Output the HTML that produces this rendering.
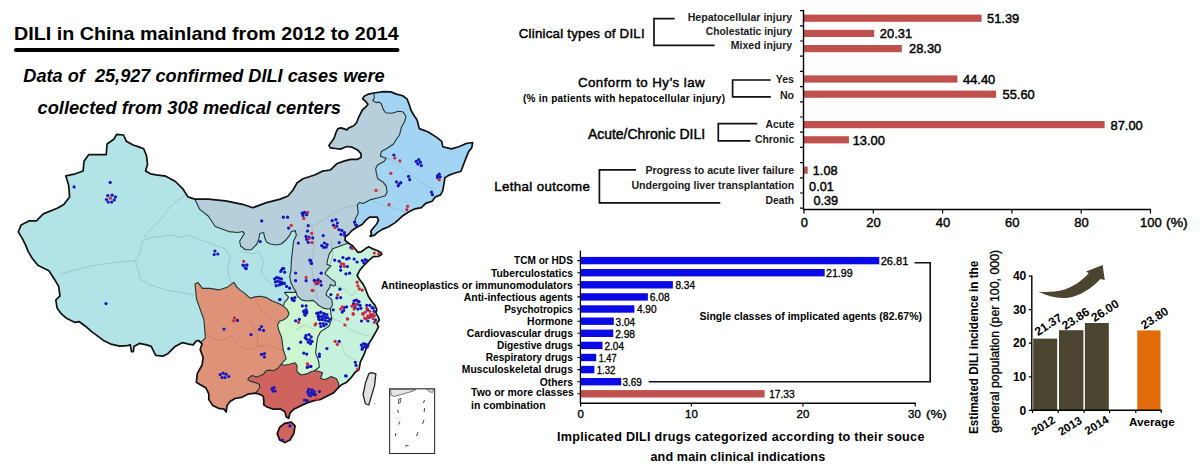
<!DOCTYPE html>
<html><head><meta charset="utf-8"><style>
html,body{margin:0;padding:0;background:#fff;}
svg{display:block;}
text{font-family:"Liberation Sans",sans-serif;}
</style></head><body>
<svg width="1202" height="468" viewBox="0 0 1202 468">
<rect width="1202" height="468" fill="#fff"/>
<g id="map">
<path d="M116.7 134.4 L123.5 135.0 L126.3 141.2 L133.1 145.0 L138.8 146.9 L143.7 148.8 L146.5 155.6 L147.5 164.2 L145.6 171.0 L150.4 173.8 L156.2 174.8 L165.8 176.2 L175.4 181.5 L183.1 189.2 L187.9 196.9 L194.7 199.1 L199.8 209.4 L208.4 216.2 L215.2 226.5 L228.9 231.6 L237.7 232.5 L242.5 231.5 L244.4 233.5 L239.6 241.2 L240.6 246.0 L245.4 249.8 L251.2 249.8 L256.9 244.0 L258.8 239.2 L259.8 233.5 L263.7 232.5 L264.6 237.3 L266.5 242.1 L270.4 244.0 L276.2 245.0 L281.0 244.0 L285.8 240.2 L289.6 235.4 L291.5 231.5 L295.4 230.6 L296.3 235.4 L293.5 241.2 L292.5 250.8 L291.5 258.5 L291.0 270.0 L289.7 276.4 L291.0 282.8 L293.6 288.0 L296.2 292.4 L284.6 292.4 L285.9 294.4 L288.5 296.9 L287.2 299.5 L284.6 302.1 L283.3 305.9 L278.2 303.3 L271.8 300.8 L266.7 297.6 L260.3 296.3 L255.1 296.9 L250.0 298.2 L244.3 292.9 L239.8 289.9 L236.8 286.9 L233.8 282.4 L227.9 286.9 L218.9 289.9 L209.9 288.4 L202.4 288.4 L198.0 282.4 L195.0 283.9 L196.5 298.9 L203.9 319.8 L205.4 337.8 L200.9 342.3 L198.5 340.5 L196.1 341.1 L193.1 344.9 L188.6 344.1 L182.6 342.6 L175.1 346.4 L167.7 353.8 L163.2 356.1 L155.7 355.3 L151.2 346.4 L146.7 344.9 L139.3 343.4 L134.0 346.4 L133.3 351.6 L131.5 351.6 L130.3 344.9 L127.3 345.6 L119.8 346.1 L110.8 344.1 L103.4 340.4 L97.4 335.9 L91.4 331.4 L85.4 326.2 L79.4 321.7 L75.0 322.4 L66.0 317.9 L61.4 313.9 L57.2 308.3 L55.8 300.0 L60.0 295.8 L58.6 286.1 L54.4 279.2 L48.9 270.8 L37.8 265.3 L32.2 258.3 L28.1 251.4 L25.3 244.4 L22.5 238.9 L18.3 231.9 L21.1 225.0 L29.4 220.8 L36.4 220.8 L43.3 213.9 L57.2 208.3 L63.8 204.6 L69.6 196.9 L68.7 185.4 L65.8 175.8 L75.4 173.8 L83.1 171.0 L84.0 161.3 L88.8 154.6 L106.2 154.6 L107.1 144.0 L113.8 139.2 L116.7 134.4Z" fill="#b2e3e6"/>
<path d="M194.7 199.1 L208.4 199.1 L225.5 200.9 L242.6 204.3 L252.8 207.7 L266.5 202.6 L280.2 199.1 L288.0 196.0 L293.0 190.0 L297.0 183.0 L303.0 178.8 L314.6 175.0 L322.3 171.2 L330.3 170.0 L332.8 167.7 L336.7 163.8 L341.8 161.9 L345.6 160.6 L350.8 159.4 L357.2 159.4 L361.0 157.4 L361.0 153.6 L357.2 149.7 L352.0 147.2 L346.9 146.5 L343.7 147.8 L340.5 149.1 L335.4 148.5 L330.3 147.8 L329.0 145.3 L330.9 142.7 L334.1 138.2 L336.0 132.4 L337.9 128.6 L341.2 127.9 L346.9 129.9 L348.8 127.9 L353.3 126.0 L356.5 122.8 L358.5 117.7 L362.3 110.0 L366.3 106.4 L367.9 104.2 L365.3 101.0 L362.6 98.9 L364.2 96.2 L368.5 94.1 L373.8 93.0 L374.4 97.8 L372.8 100.5 L376.0 102.6 L379.2 102.1 L381.3 103.7 L383.4 109.6 L385.6 112.8 L392.0 113.3 L398.4 111.2 L402.7 111.7 L405.9 116.0 L404.8 121.3 L401.6 126.7 L399.5 135.0 L395.8 140.0 L393.8 143.8 L388.1 147.7 L381.3 151.5 L380.4 156.3 L386.2 158.3 L384.2 161.2 L377.5 165.0 L375.6 168.8 L377.5 178.5 L383.3 182.3 L386.2 186.2 L387.1 191.9 L385.2 195.8 L378.5 197.7 L370.8 199.6 L363.1 203.5 L359.2 202.5 L357.3 205.4 L358.3 213.1 L355.4 218.8 L354.4 224.6 L356.7 227.4 L352.0 230.5 L349.0 233.8 L345.1 237.0 L345.1 240.3 L349.0 243.5 L346.4 243.7 L339.6 246.2 L332.7 248.8 L329.3 253.9 L327.6 259.9 L326.8 264.2 L331.0 265.9 L327.0 270.0 L324.9 273.7 L328.1 276.4 L331.3 279.1 L335.1 281.8 L335.6 285.0 L333.5 286.0 L330.3 284.4 L329.7 287.6 L327.0 291.4 L326.0 295.1 L329.2 297.2 L331.9 299.9 L332.4 305.3 L330.3 308.5 L327.0 309.0 L322.8 307.9 L318.5 305.3 L316.4 303.1 L313.2 300.4 L306.8 301.0 L301.4 299.9 L297.1 295.6 L296.2 292.4 L293.6 288.0 L291.0 282.8 L289.7 276.4 L291.0 270.0 L291.5 258.5 L292.5 250.8 L293.5 241.2 L296.3 235.4 L295.4 230.6 L291.5 231.5 L289.6 235.4 L285.8 240.2 L281.0 244.0 L276.2 245.0 L270.4 244.0 L266.5 242.1 L264.6 237.3 L263.7 232.5 L259.8 233.5 L258.8 239.2 L256.9 244.0 L251.2 249.8 L245.4 249.8 L240.6 246.0 L239.6 241.2 L244.4 233.5 L242.5 231.5 L237.7 232.5 L228.9 231.6 L215.2 226.5 L208.4 216.2 L199.8 209.4 L194.7 199.1Z" fill="#b6cfdb"/>
<path d="M373.8 93.0 L383.4 91.6 L390.9 91.9 L396.3 94.1 L402.7 95.7 L407.0 98.9 L409.1 104.2 L411.2 110.7 L414.4 116.0 L417.1 120.0 L419.3 128.6 L427.8 131.8 L436.4 137.1 L441.7 141.4 L442.8 146.7 L451.3 148.9 L458.8 146.7 L466.3 143.5 L472.7 142.5 L471.7 147.8 L468.4 152.1 L466.3 157.4 L464.2 162.8 L461.0 171.3 L453.5 173.5 L448.1 175.6 L444.9 177.8 L443.9 184.2 L442.8 190.6 L440.6 194.9 L435.3 197.0 L432.1 201.3 L425.7 203.4 L421.4 207.7 L415.0 208.8 L408.6 212.0 L402.1 216.3 L395.2 222.6 L388.7 226.8 L382.3 229.4 L377.2 232.6 L374.6 235.1 L370.1 236.4 L371.4 233.8 L370.8 231.3 L372.7 228.7 L376.5 224.2 L378.5 220.4 L377.2 217.2 L369.5 217.2 L365.6 220.4 L362.4 224.2 L356.7 227.4 L354.4 224.6 L355.4 218.8 L358.3 213.1 L357.3 205.4 L359.2 202.5 L363.1 203.5 L370.8 199.6 L378.5 197.7 L385.2 195.8 L387.1 191.9 L386.2 186.2 L383.3 182.3 L377.5 178.5 L375.6 168.8 L377.5 165.0 L384.2 161.2 L386.2 158.3 L380.4 156.3 L381.3 151.5 L388.1 147.7 L393.8 143.8 L395.8 140.0 L399.5 135.0 L401.6 126.7 L404.8 121.3 L405.9 116.0 L402.7 111.7 L398.4 111.2 L392.0 113.3 L385.6 112.8 L383.4 109.6 L381.3 103.7 L379.2 102.1 L376.0 102.6 L372.8 100.5 L374.4 97.8 L373.8 93.0Z" fill="#a3d4f4"/>
<path d="M296.2 292.4 L297.1 295.6 L301.4 299.9 L306.8 301.0 L313.2 300.4 L316.4 303.1 L318.5 305.3 L322.8 307.9 L327.0 309.0 L330.3 308.5 L332.4 305.3 L331.9 299.9 L329.2 297.2 L326.0 295.1 L327.0 291.4 L329.7 287.6 L330.3 284.4 L333.5 286.0 L335.6 285.0 L335.1 281.8 L331.3 279.1 L328.1 276.4 L324.9 273.7 L327.0 270.0 L331.0 265.9 L326.8 264.2 L327.6 259.9 L329.3 253.9 L332.7 248.8 L339.6 246.2 L346.4 243.7 L349.0 243.5 L352.8 246.0 L355.4 249.2 L358.0 252.4 L361.2 251.8 L365.6 248.6 L368.8 246.7 L372.0 248.6 L377.2 250.5 L381.0 252.4 L381.7 254.4 L378.5 256.3 L373.3 256.7 L369.1 260.1 L363.9 265.3 L359.7 270.4 L357.1 275.5 L359.7 279.8 L363.1 284.1 L365.6 289.2 L368.2 296.0 L371.6 301.2 L375.0 305.4 L376.8 309.7 L375.9 313.1 L378.5 317.4 L379.3 320.0 L376.8 323.4 L378.5 326.8 L375.9 331.9 L371.8 339.0 L366.7 346.7 L364.1 354.4 L360.3 362.1 L359.0 369.7 L355.1 372.3 L351.3 377.4 L346.2 382.6 L341.0 385.1 L338.5 387.7 L338.7 383.5 L336.5 378.7 L331.2 376.6 L324.8 379.8 L320.5 378.2 L322.6 372.8 L318.4 371.2 L314.4 370.8 L312.0 371.2 L306.6 373.9 L301.3 375.0 L297.0 371.8 L297.0 365.3 L294.9 362.7 L289.5 364.3 L284.2 365.3 L281.0 364.4 L286.2 358.7 L283.2 349.7 L281.7 337.8 L278.7 330.0 L277.6 325.1 L279.5 321.3 L283.3 320.0 L287.2 317.4 L289.1 313.6 L287.2 309.7 L283.3 305.9 L284.6 302.1 L287.2 299.5 L288.5 296.9 L285.9 294.4 L284.6 292.4 L296.2 292.4Z" fill="#c6f1dc"/>
<path d="M296.2 292.4 L297.1 295.6 L301.4 299.9 L306.8 301.0 L313.2 300.4 L316.4 303.1 L318.5 305.3 L322.8 307.9 L327.0 309.0 L330.3 308.5 L331.0 314.6 L331.9 318.5 L329.0 326.2 L320.4 331.9 L317.5 337.7 L316.5 345.4 L315.6 353.1 L318.5 360.8 L319.4 367.0 L314.4 370.8 L312.0 371.2 L306.6 373.9 L301.3 375.0 L297.0 371.8 L297.0 365.3 L294.9 362.7 L289.5 364.3 L284.2 365.3 L281.0 364.4 L286.2 358.7 L283.2 349.7 L281.7 337.8 L278.7 330.0 L277.6 325.1 L279.5 321.3 L283.3 320.0 L287.2 317.4 L289.1 313.6 L287.2 309.7 L283.3 305.9 L284.6 302.1 L287.2 299.5 L288.5 296.9 L285.9 294.4 L284.6 292.4 L296.2 292.4Z" fill="#cbf6d0"/>
<path d="M198.5 340.5 L200.9 342.3 L205.4 337.8 L203.9 319.8 L196.5 298.9 L195.0 283.9 L198.0 282.4 L202.4 288.4 L209.9 288.4 L218.9 289.9 L227.9 286.9 L233.8 282.4 L236.8 286.9 L239.8 289.9 L244.3 292.9 L250.0 298.2 L255.1 296.9 L260.3 296.3 L266.7 297.6 L271.8 300.8 L278.2 303.3 L283.3 305.9 L287.2 309.7 L289.1 313.6 L287.2 317.4 L283.3 320.0 L279.5 321.3 L277.6 325.1 L278.7 330.0 L281.7 337.8 L283.2 349.7 L286.2 358.7 L281.0 364.4 L277.7 368.5 L273.5 370.7 L269.2 370.1 L266.0 370.7 L263.8 373.9 L259.6 376.0 L256.4 377.1 L252.1 375.5 L248.9 377.6 L247.8 379.8 L251.0 381.4 L256.4 383.0 L259.6 384.6 L259.6 387.8 L257.4 391.0 L255.3 393.1 L247.8 394.2 L241.4 397.4 L235.0 398.5 L230.0 401.5 L227.1 405.4 L226.2 412.1 L224.2 409.2 L218.5 408.3 L212.7 405.4 L208.8 399.6 L208.8 393.8 L206.0 388.1 L201.2 385.2 L196.3 382.3 L197.3 373.7 L202.1 365.0 L203.1 357.3 L200.2 349.6 L202.1 343.8 L198.5 340.5Z" fill="#de9278"/>
<path d="M255.3 393.1 L257.4 391.0 L259.6 387.8 L259.6 384.6 L256.4 383.0 L251.0 381.4 L247.8 379.8 L248.9 377.6 L252.1 375.5 L256.4 377.1 L259.6 376.0 L263.8 373.9 L266.0 370.7 L269.2 370.1 L273.5 370.7 L277.7 368.5 L281.0 364.4 L284.2 365.3 L289.5 364.3 L294.9 362.7 L297.0 365.3 L297.0 371.8 L301.3 375.0 L306.6 373.9 L312.0 371.2 L314.4 370.8 L318.4 371.2 L322.6 372.8 L320.5 378.2 L324.8 379.8 L331.2 376.6 L336.5 378.7 L338.7 383.5 L338.5 387.7 L337.4 388.7 L333.3 393.1 L326.9 396.3 L320.5 399.5 L314.1 400.6 L307.7 402.7 L301.5 405.4 L293.8 409.2 L290.0 413.1 L288.7 418.2 L286.2 416.9 L284.9 411.8 L281.0 409.2 L273.3 409.2 L267.1 407.0 L263.8 404.9 L263.8 400.6 L263.3 396.3 L259.6 394.2 L255.3 393.1Z" fill="#cf645e"/>
<path d="M284.9 423.3 L291.3 422.1 L295.1 425.9 L293.8 433.6 L290.0 440.0 L284.9 442.6 L279.7 440.0 L277.2 433.6 L279.7 427.2Z" fill="#cf645e"/>
<path d="M60.5 274.0 L90.0 266.0 L113.4 262.8 L120.0 261.8 L135.4 260.5 L140.5 252.8 L141.8 241.3 L150.8 237.4 L163.6 236.2 L171.3 234.9 L181.5 237.4 L186.7 234.9 L194.4 237.4 L204.6 241.3 L214.9 245.1 L225.1 249.0 L230.3 256.7 L227.7 266.9 L229.0 277.2 L232.8 284.9 M135.4 260.5 L137.9 269.5 L140.5 279.7 L150.8 284.9 L166.2 290.0 L181.5 292.6 L194.4 295.1 M143.0 238.7 L150.0 230.0 L158.5 222.0 L163.6 215.6 L171.3 205.4 L181.5 197.7 L188.0 194.0 M240.5 251.5 L253.3 254.1 L258.5 251.5 L263.6 261.8 L261.0 272.1 L268.7 282.3 L279.0 287.4" fill="none" stroke="#96c6cb" stroke-width="0.9"/>
<path d="M206.9 334.8 L218.9 340.8 L230.9 336.3 L239.8 346.7 L248.8 349.7 L257.8 346.7 L268.0 345.0 L282.0 350.0 M248.8 319.8 L257.8 334.8 L257.8 346.7 M255.0 300.0 L262.0 312.0 L270.0 318.0 L279.0 322.0" fill="none" stroke="#cd8066" stroke-width="0.9"/>
<path d="M296.0 236.0 L305.0 228.0 L316.0 224.0 L330.0 216.0 L343.0 208.0 L356.0 205.0 M312.0 226.0 L314.0 245.0 L312.0 265.0 L313.0 280.0 L318.0 300.0 M331.0 240.0 L333.0 255.0 L330.0 265.0" fill="none" stroke="#a4b8c4" stroke-width="0.9"/>
<path d="M380.0 157.0 L392.0 160.0 L405.0 170.0 L415.0 178.0 L425.0 185.0 L435.0 190.0 M372.0 201.0 L385.0 206.0 L395.0 208.0 L405.0 212.0" fill="none" stroke="#92bedb" stroke-width="0.9"/>
<path d="M335.0 285.0 L345.0 290.0 L352.0 296.0 L357.0 290.0 M331.0 318.0 L342.0 322.0 L350.0 330.0 L360.0 334.0 L370.0 336.0 M340.0 340.0 L345.0 355.0 L355.0 360.0 M296.0 330.0 L305.0 325.0 L316.0 330.0" fill="none" stroke="#a9d7bd" stroke-width="0.9"/>
<path d="M194.7 199.1 L199.8 209.4 L208.4 216.2 L215.2 226.5 L228.9 231.6 L237.7 232.5 L242.5 231.5 L244.4 233.5 L239.6 241.2 L240.6 246.0 L245.4 249.8 L251.2 249.8 L256.9 244.0 L258.8 239.2 L259.8 233.5 L263.7 232.5 L264.6 237.3 L266.5 242.1 L270.4 244.0 L276.2 245.0 L281.0 244.0 L285.8 240.2 L289.6 235.4 L291.5 231.5 L295.4 230.6 L296.3 235.4 L293.5 241.2 L292.5 250.8 L291.5 258.5 L291.0 270.0 L289.7 276.4 L291.0 282.8 L293.6 288.0 L296.2 292.4 M296.2 292.4 L284.6 292.4 L285.9 294.4 L288.5 296.9 L287.2 299.5 L284.6 302.1 L283.3 305.9 M283.3 305.9 L278.2 303.3 L271.8 300.8 L266.7 297.6 L260.3 296.3 L255.1 296.9 L250.0 298.2 L244.3 292.9 L239.8 289.9 L236.8 286.9 L233.8 282.4 L227.9 286.9 L218.9 289.9 L209.9 288.4 L202.4 288.4 L198.0 282.4 L195.0 283.9 L196.5 298.9 L203.9 319.8 L205.4 337.8 L200.9 342.3 L198.5 340.5 M296.2 292.4 L297.1 295.6 L301.4 299.9 L306.8 301.0 L313.2 300.4 L316.4 303.1 L318.5 305.3 L322.8 307.9 L327.0 309.0 L330.3 308.5 L332.4 305.3 L331.9 299.9 L329.2 297.2 L326.0 295.1 L327.0 291.4 L329.7 287.6 L330.3 284.4 L333.5 286.0 L335.6 285.0 L335.1 281.8 L331.3 279.1 L328.1 276.4 L324.9 273.7 L327.0 270.0 L331.0 265.9 L326.8 264.2 L327.6 259.9 L329.3 253.9 L332.7 248.8 L339.6 246.2 L346.4 243.7 L349.0 243.5 M373.8 93.0 L374.4 97.8 L372.8 100.5 L376.0 102.6 L379.2 102.1 L381.3 103.7 L383.4 109.6 L385.6 112.8 L392.0 113.3 L398.4 111.2 L402.7 111.7 L405.9 116.0 L404.8 121.3 L401.6 126.7 L399.5 135.0 L395.8 140.0 L393.8 143.8 L388.1 147.7 L381.3 151.5 L380.4 156.3 L386.2 158.3 L384.2 161.2 L377.5 165.0 L375.6 168.8 L377.5 178.5 L383.3 182.3 L386.2 186.2 L387.1 191.9 L385.2 195.8 L378.5 197.7 L370.8 199.6 L363.1 203.5 L359.2 202.5 L357.3 205.4 L358.3 213.1 L355.4 218.8 L354.4 224.6 L356.7 227.4 M283.3 305.9 L287.2 309.7 L289.1 313.6 L287.2 317.4 L283.3 320.0 L279.5 321.3 L277.6 325.1 L278.7 330.0 L281.7 337.8 L283.2 349.7 L286.2 358.7 L281.0 364.4 M281.0 364.4 L277.7 368.5 L273.5 370.7 L269.2 370.1 L266.0 370.7 L263.8 373.9 L259.6 376.0 L256.4 377.1 L252.1 375.5 L248.9 377.6 L247.8 379.8 L251.0 381.4 L256.4 383.0 L259.6 384.6 L259.6 387.8 L257.4 391.0 L255.3 393.1 M281.0 364.4 L284.2 365.3 L289.5 364.3 L294.9 362.7 L297.0 365.3 L297.0 371.8 L301.3 375.0 L306.6 373.9 L312.0 371.2 L314.4 370.8 L318.4 371.2 L322.6 372.8 L320.5 378.2 L324.8 379.8 L331.2 376.6 L336.5 378.7 L338.7 383.5 L338.5 387.7 M330.3 308.5 L331.0 314.6 L331.9 318.5 L329.0 326.2 L320.4 331.9 L317.5 337.7 L316.5 345.4 L315.6 353.1 L318.5 360.8 L319.4 367.0 L314.4 370.8" fill="none" stroke="#1f3535" stroke-width="1.1" stroke-linejoin="round"/>
<path d="M116.7 134.4 L123.5 135.0 L126.3 141.2 L133.1 145.0 L138.8 146.9 L143.7 148.8 L146.5 155.6 L147.5 164.2 L145.6 171.0 L150.4 173.8 L156.2 174.8 L165.8 176.2 L175.4 181.5 L183.1 189.2 L187.9 196.9 L194.7 199.1 L208.4 199.1 L225.5 200.9 L242.6 204.3 L252.8 207.7 L266.5 202.6 L280.2 199.1 L288.0 196.0 L293.0 190.0 L297.0 183.0 L303.0 178.8 L314.6 175.0 L322.3 171.2 L330.3 170.0 L332.8 167.7 L336.7 163.8 L341.8 161.9 L345.6 160.6 L350.8 159.4 L357.2 159.4 L361.0 157.4 L361.0 153.6 L357.2 149.7 L352.0 147.2 L346.9 146.5 L343.7 147.8 L340.5 149.1 L335.4 148.5 L330.3 147.8 L329.0 145.3 L330.9 142.7 L334.1 138.2 L336.0 132.4 L337.9 128.6 L341.2 127.9 L346.9 129.9 L348.8 127.9 L353.3 126.0 L356.5 122.8 L358.5 117.7 L362.3 110.0 L366.3 106.4 L367.9 104.2 L365.3 101.0 L362.6 98.9 L364.2 96.2 L368.5 94.1 L373.8 93.0 L383.4 91.6 L390.9 91.9 L396.3 94.1 L402.7 95.7 L407.0 98.9 L409.1 104.2 L411.2 110.7 L414.4 116.0 L417.1 120.0 L419.3 128.6 L427.8 131.8 L436.4 137.1 L441.7 141.4 L442.8 146.7 L451.3 148.9 L458.8 146.7 L466.3 143.5 L472.7 142.5 L471.7 147.8 L468.4 152.1 L466.3 157.4 L464.2 162.8 L461.0 171.3 L453.5 173.5 L448.1 175.6 L444.9 177.8 L443.9 184.2 L442.8 190.6 L440.6 194.9 L435.3 197.0 L432.1 201.3 L425.7 203.4 L421.4 207.7 L415.0 208.8 L408.6 212.0 L402.1 216.3 L395.2 222.6 L388.7 226.8 L382.3 229.4 L377.2 232.6 L374.6 235.1 L370.1 236.4 L371.4 233.8 L370.8 231.3 L372.7 228.7 L376.5 224.2 L378.5 220.4 L377.2 217.2 L369.5 217.2 L365.6 220.4 L362.4 224.2 L356.7 227.4 L352.0 230.5 L349.0 233.8 L345.1 237.0 L345.1 240.3 L349.0 243.5 L352.8 246.0 L355.4 249.2 L358.0 252.4 L361.2 251.8 L365.6 248.6 L368.8 246.7 L372.0 248.6 L377.2 250.5 L381.0 252.4 L381.7 254.4 L378.5 256.3 L373.3 256.7 L369.1 260.1 L363.9 265.3 L359.7 270.4 L357.1 275.5 L359.7 279.8 L363.1 284.1 L365.6 289.2 L368.2 296.0 L371.6 301.2 L375.0 305.4 L376.8 309.7 L375.9 313.1 L378.5 317.4 L379.3 320.0 L376.8 323.4 L378.5 326.8 L375.9 331.9 L371.8 339.0 L366.7 346.7 L364.1 354.4 L360.3 362.1 L359.0 369.7 L355.1 372.3 L351.3 377.4 L346.2 382.6 L341.0 385.1 L338.5 387.7 L337.4 388.7 L333.3 393.1 L326.9 396.3 L320.5 399.5 L314.1 400.6 L307.7 402.7 L301.5 405.4 L293.8 409.2 L290.0 413.1 L288.7 418.2 L286.2 416.9 L284.9 411.8 L281.0 409.2 L273.3 409.2 L267.1 407.0 L263.8 404.9 L263.8 400.6 L263.3 396.3 L259.6 394.2 L255.3 393.1 L247.8 394.2 L241.4 397.4 L235.0 398.5 L230.0 401.5 L227.1 405.4 L226.2 412.1 L224.2 409.2 L218.5 408.3 L212.7 405.4 L208.8 399.6 L208.8 393.8 L206.0 388.1 L201.2 385.2 L196.3 382.3 L197.3 373.7 L202.1 365.0 L203.1 357.3 L200.2 349.6 L202.1 343.8 L198.5 340.5 L196.1 341.1 L193.1 344.9 L188.6 344.1 L182.6 342.6 L175.1 346.4 L167.7 353.8 L163.2 356.1 L155.7 355.3 L151.2 346.4 L146.7 344.9 L139.3 343.4 L134.0 346.4 L133.3 351.6 L131.5 351.6 L130.3 344.9 L127.3 345.6 L119.8 346.1 L110.8 344.1 L103.4 340.4 L97.4 335.9 L91.4 331.4 L85.4 326.2 L79.4 321.7 L75.0 322.4 L66.0 317.9 L61.4 313.9 L57.2 308.3 L55.8 300.0 L60.0 295.8 L58.6 286.1 L54.4 279.2 L48.9 270.8 L37.8 265.3 L32.2 258.3 L28.1 251.4 L25.3 244.4 L22.5 238.9 L18.3 231.9 L21.1 225.0 L29.4 220.8 L36.4 220.8 L43.3 213.9 L57.2 208.3 L63.8 204.6 L69.6 196.9 L68.7 185.4 L65.8 175.8 L75.4 173.8 L83.1 171.0 L84.0 161.3 L88.8 154.6 L106.2 154.6 L107.1 144.0 L113.8 139.2 L116.7 134.4Z M284.9 423.3 L291.3 422.1 L295.1 425.9 L293.8 433.6 L290.0 440.0 L284.9 442.6 L279.7 440.0 L277.2 433.6 L279.7 427.2Z" fill="none" stroke="#111" stroke-width="1.7" stroke-linejoin="round"/>
<path d="M371.2 372.7 L375.8 373.8 L374.6 385.4 L371.2 396.9 L368.8 405.0 L365.4 403.8 L363.1 394.6 L365.4 383.1 L368.8 373.8Z" fill="#e2e2e2" stroke="#222" stroke-width="1.3"/>
<circle cx="374.8" cy="403.8" r="0.7" fill="#888"/>
<rect x="389.6" y="388.8" width="45" height="64.7" fill="none" stroke="#333" stroke-width="1.1"/>
<path d="M390.5 389.5H416C412 392 402 394 394 396.5L391 395Z" fill="#e4e4e4" stroke="#555" stroke-width="0.8"/>
<path d="M426.5 389.2H433.5L432.5 392.5L429 391.5Z" fill="#e4e4e4" stroke="#555" stroke-width="0.8"/>
<path d="M398.5 399.5L401 398L400.5 402.5L398.5 403.5Z" fill="#ddd" stroke="#444" stroke-width="0.8"/>
<path d="M397.5 410l1.2 3 M400 421.5l-1.5 3 M395.8 433l-0.4 3 M405 446l3.5 -0.5 M424.5 400l-1 3 M424.5 408l-0.3 4 M424 420l-1.5 4 M418 432l-1.5 4" fill="none" stroke="#444" stroke-width="1"/>
<g fill="#1414c0"><circle cx="393.9" cy="155" r="1.6"/><circle cx="416.2" cy="161.4" r="1.6"/><circle cx="418.7" cy="159.7" r="1.6"/><circle cx="420.4" cy="162.2" r="1.6"/><circle cx="417.9" cy="163.9" r="1.6"/><circle cx="421.3" cy="165.6" r="1.6"/><circle cx="408.5" cy="176.4" r="1.6"/><circle cx="409.7" cy="179.7" r="1.6"/><circle cx="396.5" cy="181.9" r="1.6"/><circle cx="399.1" cy="184.1" r="1.6"/><circle cx="400.8" cy="182.7" r="1.6"/><circle cx="398.2" cy="185.8" r="1.6"/><circle cx="437.5" cy="175.9" r="1.6"/><circle cx="439.2" cy="174.2" r="1.6"/><circle cx="440.1" cy="176.8" r="1.6"/><circle cx="437.5" cy="177.6" r="1.6"/><circle cx="431.5" cy="192.1" r="1.6"/><circle cx="432.4" cy="194.7" r="1.6"/><circle cx="302.2" cy="213.2" r="1.6"/><circle cx="304.5" cy="212.4" r="1.6"/><circle cx="306.7" cy="214.7" r="1.6"/><circle cx="303" cy="215.4" r="1.6"/><circle cx="308.2" cy="225.6" r="1.6"/><circle cx="307.5" cy="231.1" r="1.6"/><circle cx="306" cy="236.4" r="1.6"/><circle cx="309" cy="237.1" r="1.6"/><circle cx="312.7" cy="237.9" r="1.6"/><circle cx="306.7" cy="239.4" r="1.6"/><circle cx="308.2" cy="242.3" r="1.6"/><circle cx="323.2" cy="235.6" r="1.6"/><circle cx="321.7" cy="245.6" r="1.6"/><circle cx="324.4" cy="243" r="1.6"/><circle cx="327.1" cy="244.6" r="1.6"/><circle cx="323.7" cy="247.3" r="1.6"/><circle cx="326.2" cy="247.1" r="1.6"/><circle cx="332.2" cy="220.7" r="1.6"/><circle cx="335.9" cy="219.6" r="1.6"/><circle cx="337.4" cy="223" r="1.6"/><circle cx="333.5" cy="225.2" r="1.6"/><circle cx="336.7" cy="226.2" r="1.6"/><circle cx="339" cy="229.7" r="1.6"/><circle cx="341.9" cy="230.4" r="1.6"/><circle cx="344.4" cy="232.6" r="1.6"/><circle cx="341" cy="234.4" r="1.6"/><circle cx="344.6" cy="235.2" r="1.6"/><circle cx="354.6" cy="222.2" r="1.6"/><circle cx="356.5" cy="225.1" r="1.6"/><circle cx="339.2" cy="242.6" r="1.6"/><circle cx="350.9" cy="247.6" r="1.6"/><circle cx="261.7" cy="220.9" r="1.6"/><circle cx="283.4" cy="217.2" r="1.6"/><circle cx="287.6" cy="217.2" r="1.6"/><circle cx="288.6" cy="228.1" r="1.6"/><circle cx="260.2" cy="241.6" r="1.6"/><circle cx="298.3" cy="243.1" r="1.6"/><circle cx="243" cy="265" r="1.6"/><circle cx="246.7" cy="265" r="1.6"/><circle cx="245.2" cy="268" r="1.6"/><circle cx="282.6" cy="268.5" r="1.6"/><circle cx="281.4" cy="270" r="1.6"/><circle cx="283.7" cy="268.5" r="1.6"/><circle cx="284.7" cy="272.2" r="1.6"/><circle cx="280.7" cy="271.5" r="1.6"/><circle cx="274.7" cy="278.9" r="1.6"/><circle cx="276.9" cy="277.4" r="1.6"/><circle cx="279.2" cy="278.2" r="1.6"/><circle cx="281.4" cy="278.9" r="1.6"/><circle cx="275.4" cy="281.9" r="1.6"/><circle cx="277.7" cy="281.2" r="1.6"/><circle cx="279.9" cy="281.9" r="1.6"/><circle cx="282.2" cy="282.7" r="1.6"/><circle cx="284.4" cy="283.4" r="1.6"/><circle cx="276.2" cy="285.7" r="1.6"/><circle cx="279.2" cy="284.9" r="1.6"/><circle cx="281.4" cy="284.2" r="1.6"/><circle cx="286.6" cy="286.4" r="1.6"/><circle cx="289.6" cy="288.2" r="1.6"/><circle cx="279.9" cy="299.6" r="1.6"/><circle cx="291.9" cy="298.4" r="1.6"/><circle cx="294.9" cy="297.6" r="1.6"/><circle cx="294.1" cy="300.6" r="1.6"/><circle cx="292.6" cy="299.9" r="1.6"/><circle cx="295.6" cy="273" r="1.6"/><circle cx="295.6" cy="280.7" r="1.6"/><circle cx="306.1" cy="280.7" r="1.6"/><circle cx="309.8" cy="260.2" r="1.6"/><circle cx="311.3" cy="263.2" r="1.6"/><circle cx="314.3" cy="280.4" r="1.6"/><circle cx="318.1" cy="279.7" r="1.6"/><circle cx="317.3" cy="283.4" r="1.6"/><circle cx="302.3" cy="305.9" r="1.6"/><circle cx="306.1" cy="305.9" r="1.6"/><circle cx="303.8" cy="311.1" r="1.6"/><circle cx="306.8" cy="311.8" r="1.6"/><circle cx="304.6" cy="314.1" r="1.6"/><circle cx="306.1" cy="309.6" r="1.6"/><circle cx="295.6" cy="320.8" r="1.6"/><circle cx="299.4" cy="319.3" r="1.6"/><circle cx="318.1" cy="313.3" r="1.6"/><circle cx="318.8" cy="317.8" r="1.6"/><circle cx="310.7" cy="260.5" r="1.6"/><circle cx="311.5" cy="263.5" r="1.6"/><circle cx="321.2" cy="273.2" r="1.6"/><circle cx="314.5" cy="280.7" r="1.6"/><circle cx="317.5" cy="281.4" r="1.6"/><circle cx="320.5" cy="281.4" r="1.6"/><circle cx="321.2" cy="285.1" r="1.6"/><circle cx="316.7" cy="283.7" r="1.6"/><circle cx="334.7" cy="260.2" r="1.6"/><circle cx="339.2" cy="261.2" r="1.6"/><circle cx="342.9" cy="257.5" r="1.6"/><circle cx="346.6" cy="259" r="1.6"/><circle cx="348.9" cy="258.2" r="1.6"/><circle cx="340.7" cy="266.5" r="1.6"/><circle cx="347.4" cy="266.5" r="1.6"/><circle cx="340.7" cy="270.2" r="1.6"/><circle cx="345.9" cy="273.9" r="1.6"/><circle cx="349.6" cy="273.2" r="1.6"/><circle cx="354.1" cy="259" r="1.6"/><circle cx="357.1" cy="262" r="1.6"/><circle cx="362.3" cy="260.5" r="1.6"/><circle cx="365.3" cy="259.7" r="1.6"/><circle cx="363.8" cy="262.7" r="1.6"/><circle cx="366.8" cy="260.5" r="1.6"/><circle cx="339.9" cy="289.2" r="1.6"/><circle cx="330.9" cy="294.6" r="1.6"/><circle cx="336.9" cy="297.9" r="1.6"/><circle cx="340.7" cy="297.6" r="1.6"/><circle cx="333.2" cy="309.8" r="1.6"/><circle cx="344.4" cy="307.6" r="1.6"/><circle cx="346.6" cy="306.8" r="1.6"/><circle cx="343.7" cy="310.6" r="1.6"/><circle cx="342.2" cy="312.1" r="1.6"/><circle cx="354.1" cy="300.9" r="1.6"/><circle cx="356.4" cy="300.1" r="1.6"/><circle cx="358.6" cy="301.6" r="1.6"/><circle cx="353.4" cy="303.8" r="1.6"/><circle cx="357.1" cy="304.6" r="1.6"/><circle cx="360.1" cy="305.3" r="1.6"/><circle cx="354.9" cy="307.6" r="1.6"/><circle cx="357.9" cy="309.1" r="1.6"/><circle cx="360.9" cy="308.3" r="1.6"/><circle cx="366.8" cy="305.3" r="1.6"/><circle cx="369.8" cy="305.3" r="1.6"/><circle cx="372.1" cy="307.6" r="1.6"/><circle cx="367.6" cy="309.8" r="1.6"/><circle cx="374.3" cy="311.3" r="1.6"/><circle cx="371.3" cy="315.8" r="1.6"/><circle cx="368.3" cy="317.3" r="1.6"/><circle cx="316.7" cy="313.3" r="1.6"/><circle cx="320.5" cy="312.6" r="1.6"/><circle cx="324.2" cy="314.1" r="1.6"/><circle cx="318.2" cy="316.3" r="1.6"/><circle cx="322" cy="316.3" r="1.6"/><circle cx="325.7" cy="317.8" r="1.6"/><circle cx="319" cy="319.3" r="1.6"/><circle cx="322.7" cy="319.3" r="1.6"/><circle cx="317.9" cy="313" r="1.6"/><circle cx="320.9" cy="312.2" r="1.6"/><circle cx="323.9" cy="313.7" r="1.6"/><circle cx="326.9" cy="314.5" r="1.6"/><circle cx="318.7" cy="316" r="1.6"/><circle cx="321.7" cy="316.7" r="1.6"/><circle cx="324.7" cy="316.7" r="1.6"/><circle cx="327.7" cy="317.5" r="1.6"/><circle cx="329.9" cy="319" r="1.6"/><circle cx="319.4" cy="319.7" r="1.6"/><circle cx="322.4" cy="319.7" r="1.6"/><circle cx="325.4" cy="320.5" r="1.6"/><circle cx="328.4" cy="321.2" r="1.6"/><circle cx="320.2" cy="323.5" r="1.6"/><circle cx="323.2" cy="323.5" r="1.6"/><circle cx="326.2" cy="324.2" r="1.6"/><circle cx="320.9" cy="326.5" r="1.6"/><circle cx="323.9" cy="325.7" r="1.6"/><circle cx="303.7" cy="311.5" r="1.6"/><circle cx="306.7" cy="313" r="1.6"/><circle cx="305.2" cy="315.2" r="1.6"/><circle cx="306" cy="335.4" r="1.6"/><circle cx="309" cy="334.7" r="1.6"/><circle cx="311.2" cy="336.9" r="1.6"/><circle cx="306.7" cy="339.2" r="1.6"/><circle cx="309.7" cy="339.9" r="1.6"/><circle cx="312" cy="341.4" r="1.6"/><circle cx="308.2" cy="342.2" r="1.6"/><circle cx="310.5" cy="343.7" r="1.6"/><circle cx="305.2" cy="337.7" r="1.6"/><circle cx="300.7" cy="342.2" r="1.6"/><circle cx="303.7" cy="353.1" r="1.6"/><circle cx="306.7" cy="354.1" r="1.6"/><circle cx="307.5" cy="366.8" r="1.6"/><circle cx="310.5" cy="366.5" r="1.6"/><circle cx="319.4" cy="354.1" r="1.6"/><circle cx="319.4" cy="356.4" r="1.6"/><circle cx="326.9" cy="348.6" r="1.6"/><circle cx="339.2" cy="341.4" r="1.6"/><circle cx="361.3" cy="345.1" r="1.6"/><circle cx="363.6" cy="343.7" r="1.6"/><circle cx="365.8" cy="344.4" r="1.6"/><circle cx="368.1" cy="345.1" r="1.6"/><circle cx="362.8" cy="347.4" r="1.6"/><circle cx="365.1" cy="346.6" r="1.6"/><circle cx="367.3" cy="347.1" r="1.6"/><circle cx="362.1" cy="349.2" r="1.6"/><circle cx="355.3" cy="362.3" r="1.6"/><circle cx="356.1" cy="365.3" r="1.6"/><circle cx="345.6" cy="375.8" r="1.6"/><circle cx="237.5" cy="320.4" r="1.6"/><circle cx="224" cy="329" r="1.6"/><circle cx="251" cy="334.6" r="1.6"/><circle cx="259.6" cy="329.4" r="1.6"/><circle cx="261.5" cy="326.5" r="1.6"/><circle cx="263.5" cy="330.4" r="1.6"/><circle cx="261.5" cy="354.4" r="1.6"/><circle cx="264.4" cy="353.5" r="1.6"/><circle cx="264.4" cy="356.9" r="1.6"/><circle cx="220.2" cy="374.6" r="1.6"/><circle cx="223.1" cy="373.1" r="1.6"/><circle cx="226" cy="374.2" r="1.6"/><circle cx="228.8" cy="376.5" r="1.6"/><circle cx="222.1" cy="377.5" r="1.6"/><circle cx="225" cy="377.5" r="1.6"/><circle cx="279.8" cy="299.6" r="1.6"/><circle cx="288.8" cy="348.7" r="1.6"/><circle cx="110.2" cy="182.4" r="1.6"/><circle cx="107.8" cy="195.6" r="1.6"/><circle cx="112.1" cy="195.2" r="1.6"/><circle cx="115.5" cy="196.9" r="1.6"/><circle cx="106.5" cy="199.5" r="1.6"/><circle cx="108.2" cy="202.1" r="1.6"/><circle cx="111.7" cy="202.1" r="1.6"/><circle cx="114.2" cy="199.9" r="1.6"/><circle cx="74.1" cy="186.9" r="1.6"/><circle cx="106" cy="303.6" r="1.6"/><circle cx="214.9" cy="251" r="1.6"/><circle cx="214.2" cy="254.5" r="1.6"/><circle cx="217.8" cy="254" r="1.6"/><circle cx="243.5" cy="265.5" r="1.6"/><circle cx="246.9" cy="265.1" r="1.6"/><circle cx="246.3" cy="268.6" r="1.6"/><circle cx="271.9" cy="388.8" r="1.6"/><circle cx="274" cy="387.6" r="1.6"/><circle cx="275.1" cy="391" r="1.6"/><circle cx="273" cy="391" r="1.6"/><circle cx="308.8" cy="389.4" r="1.6"/><circle cx="312" cy="389.9" r="1.6"/><circle cx="314.1" cy="391.5" r="1.6"/><circle cx="307.7" cy="392.1" r="1.6"/><circle cx="310.9" cy="392.6" r="1.6"/><circle cx="313" cy="394.2" r="1.6"/><circle cx="308.8" cy="394.7" r="1.6"/><circle cx="315.2" cy="394.7" r="1.6"/><circle cx="310.4" cy="395.8" r="1.6"/><circle cx="319.4" cy="391.5" r="1.6"/><circle cx="304.5" cy="400.1" r="1.6"/><circle cx="307.2" cy="400.6" r="1.6"/><circle cx="307.2" cy="367.5" r="1.6"/><circle cx="310.9" cy="366.4" r="1.6"/><circle cx="346.2" cy="376" r="1.6"/><circle cx="290" cy="425.9" r="1.6"/><circle cx="282.3" cy="440" r="1.6"/><circle cx="373.1" cy="308.2" r="1.6"/><circle cx="361.5" cy="321" r="1.6"/><circle cx="367.9" cy="321" r="1.6"/><circle cx="375.5" cy="320" r="1.6"/><circle cx="359" cy="301.8" r="1.6"/></g>
<g fill="#d02838"><circle cx="394.8" cy="158" r="1.6"/><circle cx="399.9" cy="160.9" r="1.6"/><circle cx="390.9" cy="173.3" r="1.6"/><circle cx="376" cy="190.4" r="1.6"/><circle cx="389.1" cy="204.6" r="1.6"/><circle cx="407.6" cy="206.3" r="1.6"/><circle cx="406.8" cy="209.7" r="1.6"/><circle cx="439.2" cy="179.7" r="1.6"/><circle cx="307.5" cy="212.4" r="1.6"/><circle cx="303.7" cy="218.4" r="1.6"/><circle cx="311.7" cy="233.4" r="1.6"/><circle cx="309" cy="238.6" r="1.6"/><circle cx="312" cy="242.6" r="1.6"/><circle cx="335.1" cy="227.4" r="1.6"/><circle cx="352.3" cy="248.6" r="1.6"/><circle cx="291.2" cy="225.4" r="1.6"/><circle cx="243.7" cy="261.3" r="1.6"/><circle cx="306.1" cy="277.4" r="1.6"/><circle cx="312.8" cy="290.6" r="1.6"/><circle cx="315.8" cy="282.7" r="1.6"/><circle cx="298.6" cy="322.3" r="1.6"/><circle cx="315.8" cy="323.8" r="1.6"/><circle cx="316" cy="282.9" r="1.6"/><circle cx="319" cy="282.2" r="1.6"/><circle cx="312.2" cy="290.4" r="1.6"/><circle cx="341.4" cy="263.5" r="1.6"/><circle cx="343.7" cy="264.2" r="1.6"/><circle cx="344.4" cy="266.5" r="1.6"/><circle cx="374.3" cy="253" r="1.6"/><circle cx="378.8" cy="253.7" r="1.6"/><circle cx="357.1" cy="282.2" r="1.6"/><circle cx="357.9" cy="285.9" r="1.6"/><circle cx="359.4" cy="288.9" r="1.6"/><circle cx="362.3" cy="290.1" r="1.6"/><circle cx="337.7" cy="294.9" r="1.6"/><circle cx="342.2" cy="306.8" r="1.6"/><circle cx="340.7" cy="309.1" r="1.6"/><circle cx="351.9" cy="306.1" r="1.6"/><circle cx="354.9" cy="305.3" r="1.6"/><circle cx="354.1" cy="309.1" r="1.6"/><circle cx="366.8" cy="308.3" r="1.6"/><circle cx="369.8" cy="311.3" r="1.6"/><circle cx="372.8" cy="314.3" r="1.6"/><circle cx="369.8" cy="317.3" r="1.6"/><circle cx="374.3" cy="315.8" r="1.6"/><circle cx="363.1" cy="314.3" r="1.6"/><circle cx="364.6" cy="318.1" r="1.6"/><circle cx="353.4" cy="314.3" r="1.6"/><circle cx="347.4" cy="318.8" r="1.6"/><circle cx="315" cy="325" r="1.6"/><circle cx="307.5" cy="363.8" r="1.6"/><circle cx="335.1" cy="341.4" r="1.6"/><circle cx="337.4" cy="344.4" r="1.6"/><circle cx="347.6" cy="319" r="1.6"/><circle cx="344.9" cy="325" r="1.6"/><circle cx="353.1" cy="313.7" r="1.6"/><circle cx="357.6" cy="369.1" r="1.6"/><circle cx="234.6" cy="317.9" r="1.6"/><circle cx="233.7" cy="320.8" r="1.6"/><circle cx="110.4" cy="198.2" r="1.6"/><circle cx="317.3" cy="399.5" r="1.6"/><circle cx="307.7" cy="364.3" r="1.6"/><circle cx="362.8" cy="313.3" r="1.6"/><circle cx="365.4" cy="312.1" r="1.6"/><circle cx="367.9" cy="315.9" r="1.6"/><circle cx="370.5" cy="314.6" r="1.6"/><circle cx="373.1" cy="318.5" r="1.6"/><circle cx="374.4" cy="322.3" r="1.6"/><circle cx="366" cy="319" r="1.6"/><circle cx="356.4" cy="304.4" r="1.6"/></g>
</g>
<text x="14.0" y="40.0" font-size="19" font-weight="bold" textLength="384.6" lengthAdjust="spacingAndGlyphs">DILI in China mainland from 2012 to 2014</text>
<rect x="14" y="48" width="385.5" height="4" rx="2" fill="#000"/>
<text x="23.3" y="81.6" font-size="18" font-weight="bold" font-style="italic" textLength="361.3" lengthAdjust="spacingAndGlyphs">Data of&#160; 25,927 confirmed DILI cases were</text>
<text x="37.5" y="113.6" font-size="18" font-weight="bold" font-style="italic" textLength="303.4" lengthAdjust="spacingAndGlyphs">collected from 308 medical centers</text>
<rect x="804" y="14.6" width="177.6" height="7.2" fill="#c0504d"/>
<rect x="804" y="29.8" width="70.2" height="7.2" fill="#c0504d"/>
<rect x="804" y="45.0" width="97.8" height="7.2" fill="#c0504d"/>
<rect x="804" y="75.4" width="153.4" height="7.2" fill="#c0504d"/>
<rect x="804" y="90.6" width="192.1" height="7.2" fill="#c0504d"/>
<rect x="804" y="121.0" width="300.6" height="7.2" fill="#c0504d"/>
<rect x="804" y="136.2" width="44.9" height="7.2" fill="#c0504d"/>
<rect x="804" y="166.6" width="3.7" height="7.2" fill="#c0504d"/>
<path d="M803.5 9.8V209.5M800 " stroke="#000" stroke-width="1.4" fill="none"/>
<path d="M800 10.6H804M800 25.8H804M800 41.0H804M800 56.2H804M800 71.4H804M800 86.6H804M800 101.8H804M800 117.0H804M800 132.2H804M800 147.4H804M800 162.6H804M800 177.8H804M800 193.0H804M800 208.2H804" stroke="#000" stroke-width="1.2" fill="none"/>
<path d="M803 209.5H1150.8" stroke="#000" stroke-width="1.5" fill="none"/>
<path d="M804.0 209.5V213.5M873.3 209.5V213.5M942.6 209.5V213.5M1011.9 209.5V213.5M1081.2 209.5V213.5M1150.5 209.5V213.5" stroke="#000" stroke-width="1.2" fill="none"/>
<text x="804.3" y="227.0" font-size="13" font-weight="normal" text-anchor="middle" stroke="#000" stroke-width="0.4">0</text>
<text x="873.6" y="227.0" font-size="13" font-weight="normal" text-anchor="middle" stroke="#000" stroke-width="0.4">20</text>
<text x="942.9" y="227.0" font-size="13" font-weight="normal" text-anchor="middle" stroke="#000" stroke-width="0.4">40</text>
<text x="1012.2" y="227.0" font-size="13" font-weight="normal" text-anchor="middle" stroke="#000" stroke-width="0.4">60</text>
<text x="1081.5" y="227.0" font-size="13" font-weight="normal" text-anchor="middle" stroke="#000" stroke-width="0.4">80</text>
<text x="1150.8" y="227.0" font-size="13" font-weight="normal" text-anchor="middle" stroke="#000" stroke-width="0.4">100</text>
<text x="1166.0" y="227.0" font-size="13" font-weight="normal" textLength="21.7" lengthAdjust="spacingAndGlyphs" stroke="#000" stroke-width="0.4">(%)</text>
<text x="987.0" y="22.5" font-size="13" font-weight="normal" textLength="32.3" lengthAdjust="spacingAndGlyphs" stroke="#000" stroke-width="0.45">51.39</text>
<text x="879.8" y="38.0" font-size="13" font-weight="normal" textLength="32.3" lengthAdjust="spacingAndGlyphs" stroke="#000" stroke-width="0.45">20.31</text>
<text x="909.0" y="53.4" font-size="13" font-weight="normal" textLength="32.3" lengthAdjust="spacingAndGlyphs" stroke="#000" stroke-width="0.45">28.30</text>
<text x="963.0" y="83.5" font-size="13" font-weight="normal" textLength="32.3" lengthAdjust="spacingAndGlyphs" stroke="#000" stroke-width="0.45">44.40</text>
<text x="1002.5" y="99.0" font-size="13" font-weight="normal" textLength="32.3" lengthAdjust="spacingAndGlyphs" stroke="#000" stroke-width="0.45">55.60</text>
<text x="1110.5" y="130.1" font-size="13" font-weight="normal" textLength="32.3" lengthAdjust="spacingAndGlyphs" stroke="#000" stroke-width="0.45">87.00</text>
<text x="852.7" y="144.7" font-size="13" font-weight="normal" textLength="32.3" lengthAdjust="spacingAndGlyphs" stroke="#000" stroke-width="0.45">13.00</text>
<text x="812.8" y="174.6" font-size="13" font-weight="normal" textLength="24.7" lengthAdjust="spacingAndGlyphs" stroke="#000" stroke-width="0.45">1.08</text>
<text x="809.1" y="190.6" font-size="13" font-weight="normal" textLength="24.7" lengthAdjust="spacingAndGlyphs" stroke="#000" stroke-width="0.45">0.01</text>
<text x="813.4" y="205.1" font-size="13" font-weight="normal" textLength="24.7" lengthAdjust="spacingAndGlyphs" stroke="#000" stroke-width="0.45">0.39</text>
<text x="792.2" y="21.3" font-size="10.6" font-weight="bold" text-anchor="end" textLength="104.5" lengthAdjust="spacingAndGlyphs" fill="#1a1a1a">Hepatocellular injury</text>
<text x="792.2" y="35.0" font-size="10.6" font-weight="bold" text-anchor="end" textLength="86.4" lengthAdjust="spacingAndGlyphs" fill="#1a1a1a">Cholestatic injury</text>
<text x="792.2" y="49.2" font-size="10.6" font-weight="bold" text-anchor="end" textLength="61.4" lengthAdjust="spacingAndGlyphs" fill="#1a1a1a">Mixed injury</text>
<text x="794.0" y="83.0" font-size="10.6" font-weight="bold" text-anchor="end" fill="#1a1a1a">Yes</text>
<text x="794.0" y="98.7" font-size="10.6" font-weight="bold" text-anchor="end" fill="#1a1a1a">No</text>
<text x="794.2" y="128.1" font-size="10.6" font-weight="bold" text-anchor="end" textLength="28.8" lengthAdjust="spacingAndGlyphs" fill="#1a1a1a">Acute</text>
<text x="794.2" y="143.2" font-size="10.6" font-weight="bold" text-anchor="end" textLength="39.3" lengthAdjust="spacingAndGlyphs" fill="#1a1a1a">Chronic</text>
<text x="794.2" y="173.7" font-size="10.6" font-weight="bold" text-anchor="end" textLength="148.8" lengthAdjust="spacingAndGlyphs" fill="#1a1a1a">Progress to acute liver failure</text>
<text x="794.2" y="188.8" font-size="10.6" font-weight="bold" text-anchor="end" textLength="162.8" lengthAdjust="spacingAndGlyphs" fill="#1a1a1a">Undergoing liver transplantation</text>
<text x="794.2" y="204.4" font-size="10.6" font-weight="bold" text-anchor="end" textLength="28.8" lengthAdjust="spacingAndGlyphs" fill="#1a1a1a">Death</text>
<text x="518.7" y="38.2" font-size="13.3" font-weight="normal" textLength="126.0" lengthAdjust="spacing" stroke="#000" stroke-width="0.45">Clinical types of DILI</text>
<text x="577.9" y="86.7" font-size="13.3" font-weight="normal" textLength="126.8" lengthAdjust="spacing" stroke="#000" stroke-width="0.45">Conform to Hy&#8217;s law</text>
<text x="523.0" y="102.2" font-size="10" font-weight="bold" textLength="202.0" lengthAdjust="spacing">(% in patients with hepatocellular injury)</text>
<text x="587.9" y="139.4" font-size="14" font-weight="normal" textLength="117.2" lengthAdjust="spacingAndGlyphs" stroke="#000" stroke-width="0.45">Acute/Chronic DILI</text>
<text x="494.3" y="191.0" font-size="13.3" font-weight="normal" textLength="95.5" lengthAdjust="spacing" stroke="#000" stroke-width="0.45">Lethal outcome</text>
<path d="M674.7 18.7H654V45.4H714.6 M770.8 80H732.6V96.9H770.8 M757.3 123.7H718.3V140.8H750.4 M636 169.9H599.4V202.8H720.3" stroke="#111" stroke-width="1.7" fill="none"/>
<rect x="581" y="256.9" width="298.3" height="7.4" fill="#0a0ae6"/>
<text x="880.7" y="265.0" font-size="10" font-weight="normal" textLength="27.7" lengthAdjust="spacingAndGlyphs" stroke="#000" stroke-width="0.3">26.81</text>
<text x="572.9" y="264.4" font-size="10.7" font-weight="bold" text-anchor="end" textLength="58.9" lengthAdjust="spacingAndGlyphs">TCM or HDS</text>
<rect x="581" y="269.0" width="243.7" height="7.4" fill="#0a0ae6"/>
<text x="826.0" y="277.1" font-size="10" font-weight="normal" textLength="26.7" lengthAdjust="spacingAndGlyphs" stroke="#000" stroke-width="0.3">21.99</text>
<text x="572.9" y="276.5" font-size="10.7" font-weight="bold" text-anchor="end" textLength="81.9" lengthAdjust="spacingAndGlyphs">Tuberculostatics</text>
<rect x="581" y="281.1" width="91.9" height="7.4" fill="#0a0ae6"/>
<text x="675.4" y="289.2" font-size="10" font-weight="normal" textLength="19.6" lengthAdjust="spacingAndGlyphs" stroke="#000" stroke-width="0.3">8.34</text>
<text x="572.9" y="288.6" font-size="10.7" font-weight="bold" text-anchor="end" textLength="191.9" lengthAdjust="spacingAndGlyphs">Antineoplastics or immunomodulators</text>
<rect x="581" y="293.2" width="66.9" height="7.4" fill="#0a0ae6"/>
<text x="649.8" y="301.3" font-size="10" font-weight="normal" textLength="19.8" lengthAdjust="spacingAndGlyphs" stroke="#000" stroke-width="0.3">6.08</text>
<text x="572.9" y="300.7" font-size="10.7" font-weight="bold" text-anchor="end" textLength="109.1" lengthAdjust="spacingAndGlyphs">Anti-infectious agents</text>
<rect x="581" y="305.3" width="53.4" height="7.4" fill="#0a0ae6"/>
<text x="636.9" y="313.4" font-size="10" font-weight="normal" textLength="19.6" lengthAdjust="spacingAndGlyphs" stroke="#000" stroke-width="0.3">4.90</text>
<text x="572.9" y="312.8" font-size="10.7" font-weight="bold" text-anchor="end" textLength="68.7" lengthAdjust="spacingAndGlyphs">Psychotropics</text>
<rect x="581" y="317.5" width="32.8" height="7.4" fill="#0a0ae6"/>
<text x="615.6" y="325.6" font-size="10" font-weight="normal" textLength="19.4" lengthAdjust="spacingAndGlyphs" stroke="#000" stroke-width="0.3">3.04</text>
<text x="572.9" y="325.0" font-size="10.7" font-weight="bold" text-anchor="end" textLength="45.8" lengthAdjust="spacingAndGlyphs">Hormone</text>
<rect x="581" y="329.6" width="32.3" height="7.4" fill="#0a0ae6"/>
<text x="615.2" y="337.7" font-size="10" font-weight="normal" textLength="19.8" lengthAdjust="spacingAndGlyphs" stroke="#000" stroke-width="0.3">2.98</text>
<text x="572.9" y="337.1" font-size="10.7" font-weight="bold" text-anchor="end" textLength="106.2" lengthAdjust="spacingAndGlyphs">Cardiovascular drugs</text>
<rect x="581" y="341.7" width="21.5" height="7.4" fill="#0a0ae6"/>
<text x="604.5" y="349.8" font-size="10" font-weight="normal" textLength="19.5" lengthAdjust="spacingAndGlyphs" stroke="#000" stroke-width="0.3">2.04</text>
<text x="572.9" y="349.2" font-size="10.7" font-weight="bold" text-anchor="end" textLength="76.0" lengthAdjust="spacingAndGlyphs">Digestive drugs</text>
<rect x="581" y="353.8" width="15.2" height="7.4" fill="#0a0ae6"/>
<text x="598.7" y="361.9" font-size="10" font-weight="normal" textLength="17.8" lengthAdjust="spacingAndGlyphs" stroke="#000" stroke-width="0.3">1.47</text>
<text x="572.9" y="361.3" font-size="10.7" font-weight="bold" text-anchor="end" textLength="87.2" lengthAdjust="spacingAndGlyphs">Respiratory drugs</text>
<rect x="581" y="365.9" width="13.4" height="7.4" fill="#0a0ae6"/>
<text x="596.7" y="374.0" font-size="10" font-weight="normal" textLength="18.7" lengthAdjust="spacingAndGlyphs" stroke="#000" stroke-width="0.3">1.32</text>
<text x="572.9" y="373.4" font-size="10.7" font-weight="bold" text-anchor="end" textLength="111.1" lengthAdjust="spacingAndGlyphs">Musculoskeletal drugs</text>
<rect x="581" y="378.0" width="40.2" height="7.4" fill="#0a0ae6"/>
<text x="622.6" y="386.1" font-size="10" font-weight="normal" textLength="19.3" lengthAdjust="spacingAndGlyphs" stroke="#000" stroke-width="0.3">3.69</text>
<text x="572.9" y="385.5" font-size="10.7" font-weight="bold" text-anchor="end" textLength="33.1" lengthAdjust="spacingAndGlyphs">Others</text>
<rect x="581" y="390.1" width="183.6" height="7.4" fill="#c0504d"/>
<text x="769.2" y="398.2" font-size="10" font-weight="normal" textLength="25.4" lengthAdjust="spacingAndGlyphs" stroke="#000" stroke-width="0.3">17.33</text>
<text x="471.1" y="396.3" font-size="10.7" font-weight="bold" textLength="102.8" lengthAdjust="spacingAndGlyphs">Two or more classes</text>
<text x="471.1" y="408.8" font-size="10.7" font-weight="bold" textLength="74.5" lengthAdjust="spacingAndGlyphs">in combination</text>
<path d="M580.4 250.5V403.5" stroke="#000" stroke-width="1.3" fill="none"/>
<path d="M577.4 260.6H580.4M577.4 272.7H580.4M577.4 284.8H580.4M577.4 296.9H580.4M577.4 309.0H580.4M577.4 321.2H580.4M577.4 333.3H580.4M577.4 345.4H580.4M577.4 357.5H580.4M577.4 369.6H580.4M577.4 381.7H580.4M577.4 393.8H580.4" stroke="#000" stroke-width="1.1" fill="none"/>
<path d="M580 403.2H915.8" stroke="#000" stroke-width="1.4" fill="none"/>
<path d="M580.6 403.2V406.5M691.4 403.2V406.5M802.9 403.2V406.5M915.2 403.2V406.5" stroke="#000" stroke-width="1.2" fill="none"/>
<text x="580.6" y="418.2" font-size="11.5" font-weight="normal" text-anchor="middle" stroke="#000" stroke-width="0.35">0</text>
<text x="691.4" y="418.2" font-size="11.5" font-weight="normal" text-anchor="middle" stroke="#000" stroke-width="0.35">10</text>
<text x="802.9" y="418.2" font-size="11.5" font-weight="normal" text-anchor="middle" stroke="#000" stroke-width="0.35">20</text>
<text x="914.4" y="418.2" font-size="11.5" font-weight="normal" text-anchor="middle" stroke="#000" stroke-width="0.35">30</text>
<text x="926.0" y="418.2" font-size="11.5" font-weight="normal" textLength="20.8" lengthAdjust="spacingAndGlyphs" stroke="#000" stroke-width="0.35">(%)</text>
<path d="M914.5 262.7H930.2V381.8H648.7" stroke="#111" stroke-width="1.6" fill="none"/>
<text x="699.5" y="320.0" font-size="11.5" font-weight="bold" textLength="222.5" lengthAdjust="spacingAndGlyphs">Single classes of implicated agents (82.67%)</text>
<text x="557.0" y="441.3" font-size="12.6" font-weight="bold" textLength="367.4" lengthAdjust="spacing">Implicated DILI drugs categorized according to their souce</text>
<text x="650.5" y="460.9" font-size="12.6" font-weight="bold" textLength="174.7" lengthAdjust="spacing">and main clinical indications</text>
<rect x="1033.2" y="338.6" width="24.0" height="71.8" fill="#4b4530"/>
<rect x="1059" y="330.2" width="24.4" height="80.2" fill="#4b4530"/>
<rect x="1084.9" y="323.0" width="23.9" height="87.4" fill="#4b4530"/>
<rect x="1137.3" y="330.4" width="23.2" height="80.0" fill="#e36c0a"/>
<path d="M1031.8 275.4V410.6M1031.5 410.3H1161.7" stroke="#000" stroke-width="1.4" fill="none"/>
<path d="M1028.8 276.1H1031.8M1028.8 309.6H1031.8M1028.8 343.1H1031.8M1028.8 376.9H1031.8M1028.8 410.4H1031.8M1032.5 410.3V413M1058.2 410.3V413M1084.1 410.3V413M1109.6 410.3V413M1135.8 410.3V413M1161.2 410.3V413" stroke="#000" stroke-width="1.2" fill="none"/>
<text x="1026.3" y="280.4" font-size="12" font-weight="bold" text-anchor="end">40</text>
<text x="1026.3" y="313.9" font-size="12" font-weight="bold" text-anchor="end">30</text>
<text x="1026.3" y="347.4" font-size="12" font-weight="bold" text-anchor="end">20</text>
<text x="1026.3" y="381.2" font-size="12" font-weight="bold" text-anchor="end">10</text>
<text x="1026.3" y="414.7" font-size="12" font-weight="bold" text-anchor="end">0</text>
<text x="1043.2" y="429.6" font-size="11.5" font-weight="bold" text-anchor="middle" transform="rotate(-32 1043.2 425.6)">2012</text>
<text x="1069.9" y="429.9" font-size="11.5" font-weight="bold" text-anchor="middle" transform="rotate(-32 1069.9 425.9)">2013</text>
<text x="1096.6" y="429.2" font-size="11.5" font-weight="bold" text-anchor="middle" transform="rotate(-32 1096.6 425.2)">2014</text>
<text x="1129.0" y="425.5" font-size="11.5" font-weight="bold" textLength="45.7" lengthAdjust="spacingAndGlyphs">Average</text>
<text x="1048.3" y="328.6" font-size="12" font-weight="bold" text-anchor="middle" transform="rotate(-33 1048.3 324.6)">21.37</text>
<text x="1075.6" y="322.8" font-size="12" font-weight="bold" text-anchor="middle" transform="rotate(-33 1075.6 318.8)">23.86</text>
<text x="1105.0" y="314.8" font-size="12" font-weight="bold" text-anchor="middle" transform="rotate(-33 1105 310.8)">26.00</text>
<text x="1154.6" y="322.1" font-size="12" font-weight="bold" text-anchor="middle" transform="rotate(-33 1154.6 318.1)">23.80</text>
<path d="M1038.5 291.8C1048 296.5 1058 299 1068.5 297.7C1080 296 1092 288 1100.5 279L1104.8 280.1L1102.6 265.1L1086.1 271.6L1088.7 273.2C1080 283 1068 290 1055 291.6C1048 292.2 1042 292 1038.5 291.8Z" fill="#4b4530"/>
<text transform="translate(978.3 434.1) rotate(-90)" font-size="12" font-weight="bold" textLength="173.4" lengthAdjust="spacingAndGlyphs">Estimated DILI incidence in the</text>
<text transform="translate(998.6 432.8) rotate(-90)" font-size="12" stroke="#000" stroke-width="0.3" textLength="183" lengthAdjust="spacingAndGlyphs">general population (per 100, 000)</text>
</svg>
</body></html>
